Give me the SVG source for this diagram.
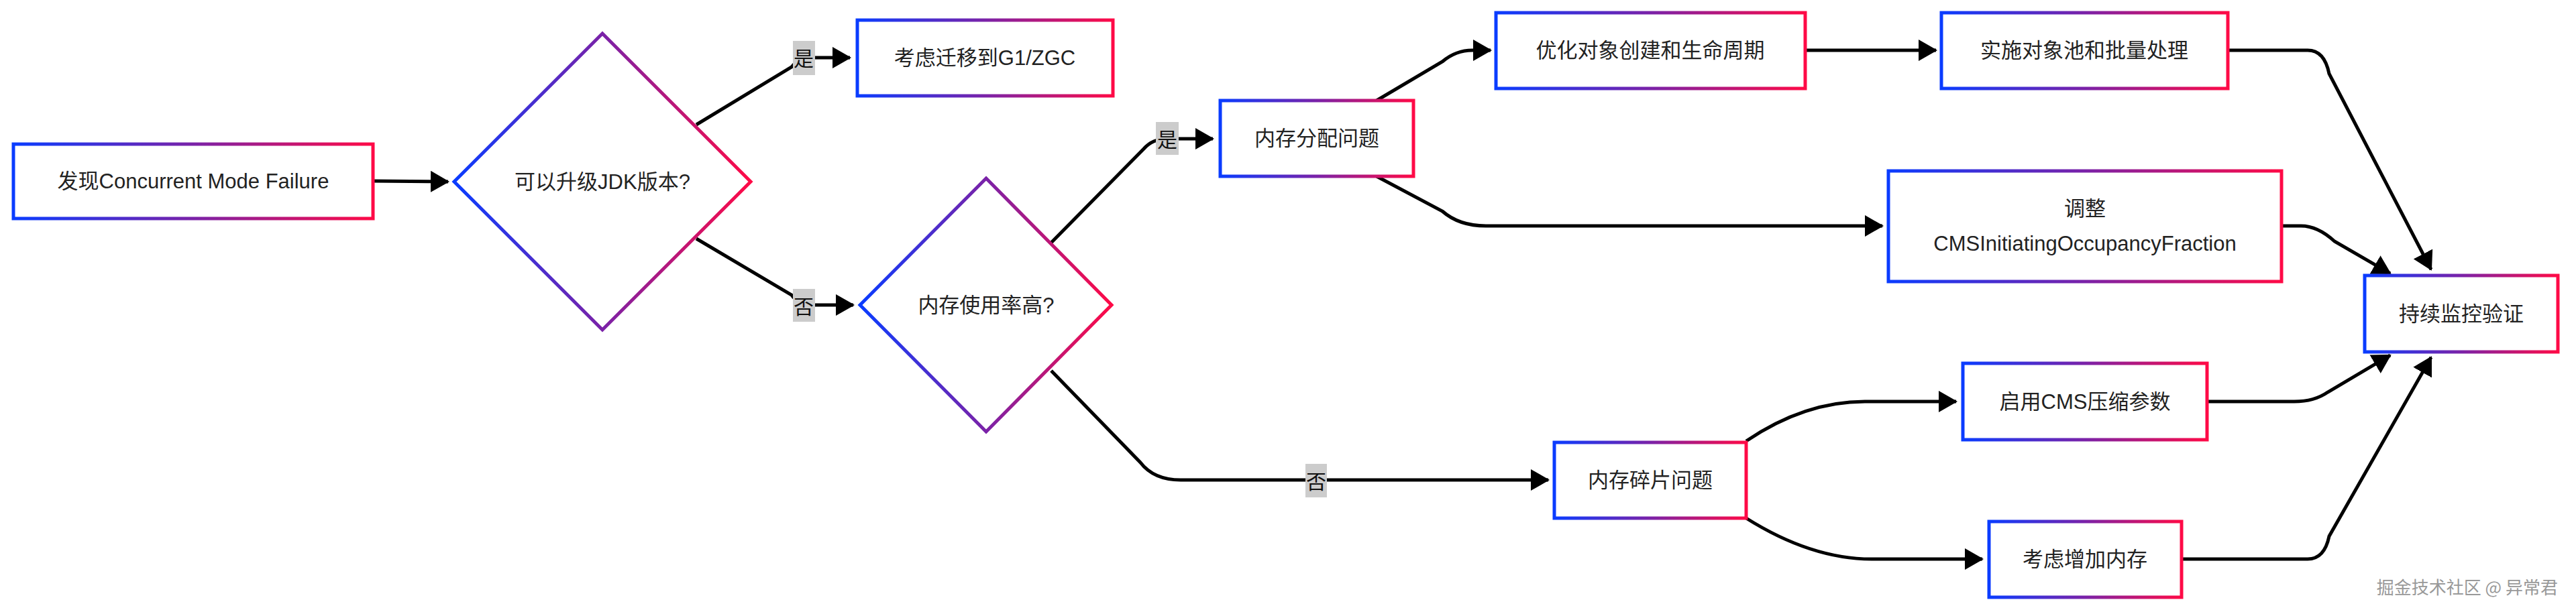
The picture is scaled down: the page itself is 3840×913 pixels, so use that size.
<svg xmlns="http://www.w3.org/2000/svg" width="3840" height="913" viewBox="0 0 3840 913">
<defs>
<linearGradient id="g" x1="0" y1="0" x2="1" y2="0"><stop offset="0" stop-color="#0a3cff"/><stop offset="0.5" stop-color="#7a22a8"/><stop offset="1" stop-color="#ff0a46"/></linearGradient>
<marker id="a" markerUnits="userSpaceOnUse" markerWidth="30" markerHeight="32" refX="26" refY="16" orient="auto"><path d="M0,0 L28,16 L0,32 Z" fill="#000"/></marker>
<style>
.n{fill:#fff;stroke:url(#g);stroke-width:5}
.t{font-family:"Liberation Sans","Noto Sans CJK SC",sans-serif;font-size:31px;fill:#222;text-anchor:middle;dominant-baseline:central}
.c{fill:none;stroke:#000;stroke-width:5;marker-end:url(#a)}
.l{fill:#ccc}
.lt{font-family:"Noto Sans CJK SC",sans-serif;font-size:30px;fill:#111;text-anchor:middle;dominant-baseline:central}
</style>
</defs>
<g id="connectors">
<path class="c" d="M556,270 L668,271"/>
<path class="c" d="M1038,186 L1180,100 Q1190,86 1215,86 L1267,86"/>
<path class="c" d="M1038,356 L1180,440 Q1190,455 1215,455 L1272,455"/>
<path class="c" d="M1567,362 L1705,222 Q1718,207 1740,207 L1808,207"/>
<path class="c" d="M1567,553 L1700,690 Q1720,716 1760,716 L2308,716"/>
<path class="c" d="M2052,150 L2150,92 Q2170,75 2195,75 L2222,75"/>
<path class="c" d="M2052,263 L2150,315 Q2175,337 2215,337 L2806,337"/>
<path class="c" d="M2691,75 L2886,75"/>
<path class="c" d="M3321,75 L3440,75 Q3465,75 3472,110 L3624,402"/>
<path class="c" d="M3401,337 L3430,337 Q3455,337 3480,360 L3563,408"/>
<path class="c" d="M2603,658 Q2690,599 2780,599 L2916,599"/>
<path class="c" d="M2603,773 Q2700,834 2790,834 L2955,834"/>
<path class="c" d="M3290,599 L3420,599 Q3450,599 3470,585 L3563,530"/>
<path class="c" d="M3252,834 L3440,834 Q3465,834 3472,800 L3624,533"/>
<rect class="l" x="1182" y="61" width="33" height="51"/><text class="lt" x="1198" y="85">是</text>
<rect class="l" x="1182" y="431" width="33" height="49"/><text class="lt" x="1198" y="455">否</text>
<rect class="l" x="1723" y="182" width="34" height="49"/><text class="lt" x="1740" y="206">是</text>
<rect class="l" x="1946" y="692" width="32" height="50"/><text class="lt" x="1962" y="716">否</text>
</g>
<g id="n1"><rect class="n" x="20" y="215" width="536" height="111"/><text class="t" x="288" y="270">发现Concurrent Mode Failure</text></g>
<g id="n2"><path class="n" d="M898,50 L1119,271 L898,492 L677,271 Z"/><text class="t" x="898" y="271">可以升级JDK版本?</text></g>
<g id="n3"><rect class="n" x="1278" y="30" width="381" height="113"/><text class="t" x="1468" y="86">考虑迁移到G1/ZGC</text></g>
<g id="n4"><path class="n" d="M1470,266 L1657,455 L1470,644 L1282,455 Z"/><text class="t" x="1470" y="455">内存使用率高?</text></g>
<g id="n5"><rect class="n" x="1819" y="150" width="288" height="113"/><text class="t" x="1963" y="206">内存分配问题</text></g>
<g id="n6"><rect class="n" x="2230" y="19" width="461" height="113"/><text class="t" x="2460" y="75">优化对象创建和生命周期</text></g>
<g id="n7"><rect class="n" x="2894" y="19" width="427" height="113"/><text class="t" x="3107" y="75">实施对象池和批量处理</text></g>
<g id="n8"><rect class="n" x="2815" y="255" width="586" height="165"/><text class="t" x="3108" y="311">调整</text><text class="t" x="3108" y="363">CMSInitiatingOccupancyFraction</text></g>
<g id="n9"><rect class="n" x="3525" y="411" width="288" height="114"/><text class="t" x="3669" y="468">持续监控验证</text></g>
<g id="n10"><rect class="n" x="2317" y="660" width="286" height="113"/><text class="t" x="2460" y="716">内存碎片问题</text></g>
<g id="n11"><rect class="n" x="2926" y="542" width="364" height="114"/><text class="t" x="3108" y="599">启用CMS压缩参数</text></g>
<g id="n12"><rect class="n" x="2965" y="778" width="287" height="113"/><text class="t" x="3108" y="834">考虑增加内存</text></g>
<text x="3813" y="874" font-family="'Noto Sans CJK SC',sans-serif" font-size="26" fill="#999" text-anchor="end" dominant-baseline="central">掘金技术社区 @ 异常君</text>
</svg>
